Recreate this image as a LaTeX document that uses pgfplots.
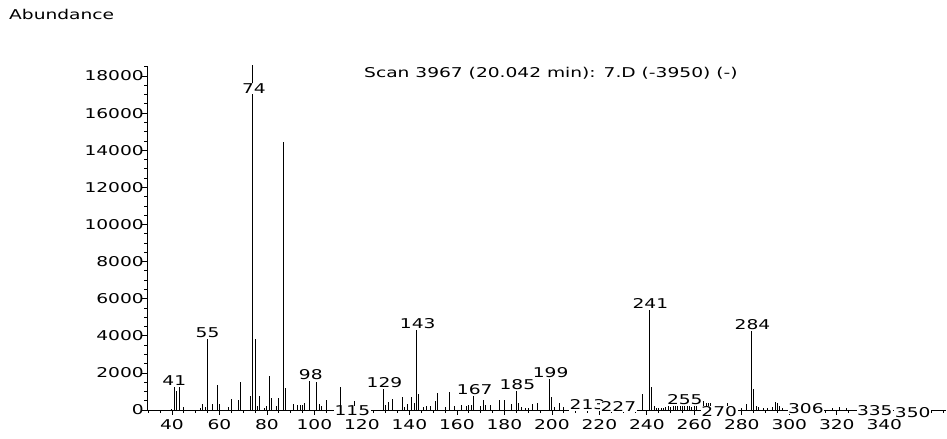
\documentclass[border=0pt]{standalone}
\usepackage{fontspec}
\setmainfont{DejaVu Sans}[FakeStretch=1.38]
\usepackage{pgfplots}
\pgfplotsset{compat=1.18}
\usepackage{pgfplotstable}

\pgfplotstableread{
m v
40 80
41 1240
42 1000
43 1240
45 150
52 100
53 320
54 150
55 3820
57 340
59 1330
60 320
64 150
65 610
68 540
69 1490
73 770
74 20000
75 3820
76 210
77 770
79 130
80 210
81 1850
82 650
84 210
85 650
87 14420
88 1185
91 300
93 250
94 250
95 290
96 400
98 1560
101 1490
102 320
103 210
105 540
111 1220
112 80
117 500
123 215
129 1110
130 250
131 410
133 590
137 700
138 180
139 320
141 690
142 360
143 4310
144 860
146 145
147 215
149 215
151 500
152 900
155 150
157 990
159 215
162 290
164 215
165 250
166 290
167 750
170 215
171 540
172 250
174 250
178 540
180 540
183 300
185 1040
186 360
187 180
189 90
190 90
192 320
194 360
199 1670
200 720
201 180
203 360
205 180
213 80
227 60
238 860
241 5390
242 1260
243 200
244 120
245 100
246 120
247 100
248 180
249 200
250 180
251 200
252 200
253 190
254 200
255 250
256 210
257 190
258 200
259 180
260 190
261 200
264 500
265 350
266 400
267 400
271 150
274 350
280 100
282 300
284 4260
285 1150
286 200
287 150
289 100
291 120
293 150
294 450
295 400
296 200
297 100
306 80
318 120
321 150
324 100
335 60
350 50
}\spectrum

\begin{document}
\fontsize{13.5bp}{16bp}\selectfont
\begin{tikzpicture}[x=1bp,y=1bp]
\useasboundingbox (0,0) rectangle (947,439);
\node[anchor=base west, inner sep=0pt] at (9,419.5) {Abundance};
\node[anchor=base west, inner sep=0pt] at (364,361.5) {Scan 3967 (20.042 min): 7.D (-3950) (-)};
\begin{axis}[
  at={(147bp,29bp)}, anchor=south west,
  scale only axis, width=799bp, height=344bp,
  xmin=29.5, xmax=366, ymin=0, ymax=18540,
  axis x line=bottom, axis y line=left,
  axis line style={-, line width=0.9bp, black},
  xtick={40,60,...,340},
  minor xtick={30,35,...,365},
  ytick={0,2000,...,18000},
  minor ytick={0,500,...,18500},
  tick align=outside,
  major tick length=5bp, minor tick length=3bp,
  tick style={line width=0.7bp, black},
  scaled y ticks=false,
  /pgf/number format/1000 sep={},
  /pgf/number format/assume math mode=true,
  ticklabel style={font=\fontsize{13.5bp}{16bp}\selectfont},
  xticklabel style={inner sep=1bp, yshift=-3bp},
  yticklabel style={inner sep=1bp, xshift=3bp},
  clip mode=individual,
]
\addplot[ycomb, black, line width=0.9bp, mark=none] table[x=m, y=v] {\spectrum};
\begin{scope}[every node/.style={font=\fontsize{13.5bp}{16bp}\selectfont, inner sep=1.2bp}]
\node[anchor=south] at (axis cs:41,1240) {41};
\node[anchor=south] at (axis cs:55,3820) {55};
\node[fill=white, inner sep=0.8bp] at (axis cs:74.5,17320) {74};
\node[anchor=south] at (axis cs:98.5,1560) {98};
\node[anchor=south] at (axis cs:129.5,1110) {129};
\node[anchor=south] at (axis cs:143.5,4310) {143};
\node[anchor=south] at (axis cs:167.5,750) {167};
\node[anchor=south] at (axis cs:185.5,1040) {185};
\node[anchor=south] at (axis cs:199.5,1670) {199};
\node[anchor=south] at (axis cs:241.5,5390) {241};
\node[anchor=south] at (axis cs:284.5,4260) {284};
\node[fill=white, inner sep=0.5bp] at (axis cs:116,-60) {115};
\node[fill=white, inner sep=0.5bp] at (axis cs:215,270) {213};
\node[fill=white, inner sep=0.5bp] at (axis cs:228,180) {227};
\node[fill=white, inner sep=0.5bp] at (axis cs:256,540) {255};
\node[fill=white, inner sep=0.5bp] at (axis cs:270.5,-80) {270};
\node[fill=white, inner sep=0.5bp] at (axis cs:307,90) {306};
\node[fill=white, inner sep=0.5bp] at (axis cs:336,-40) {335};
\node[fill=white, inner sep=0.5bp] at (axis cs:352,-150) {350};
\end{scope}
\end{axis}
\end{tikzpicture}
\end{document}
